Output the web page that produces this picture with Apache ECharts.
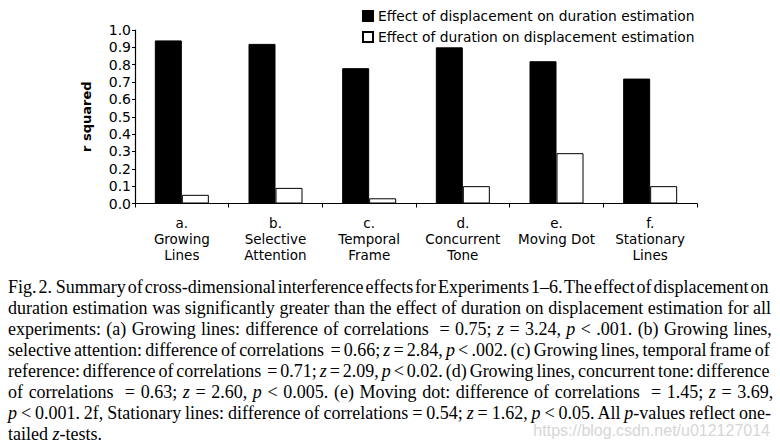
<!DOCTYPE html>
<html>
<head>
<meta charset="utf-8">
<script src="https://cdn.jsdelivr.net/npm/echarts@6/dist/echarts.min.js"></script>
<style>
  html, body { margin: 0; padding: 0; background: #fff; }
  #wrap { position: relative; width: 780px; height: 448px; overflow: hidden; }
  #chart { position: absolute; left: 0; top: 0; width: 780px; height: 448px; }
  .cap { position: absolute; left: 8px; white-space: nowrap; font-family: "Liberation Serif", "Times New Roman", serif;
         font-size: 18px; line-height: 17px; color: #000; }
  .cap i { font-style: italic; }
</style>
</head>
<body>
<div id="wrap">
  <div id="chart"></div>
</div>
<script>
const categories = ['a.\nGrowing\nLines', 'b.\nSelective\nAttention', 'c.\nTemporal\nFrame',
                    'd.\nConcurrent\nTone', 'e.\nMoving Dot', 'f.\nStationary\nLines'];
const seriesNames = ['Effect of displacement on duration estimation',
                     'Effect of duration on displacement estimation'];
const dispOnDuration = [0.94, 0.92, 0.78, 0.90, 0.82, 0.72];
const durationOnDisp = [0.05, 0.09, 0.03, 0.10, 0.29, 0.10];
const yTicks = [0, 0.1, 0.2, 0.3, 0.4, 0.5, 0.6, 0.7, 0.8, 0.9, 1.0];
const captionLines = [
  'Fig. 2.&nbsp; Summary of cross-dimensional interference effects for Experiments 1–6. The effect of displacement on',
  'duration estimation was significantly greater than the effect of duration on displacement estimation for all',
  'experiments: (a) Growing lines: difference of correlations &nbsp;= 0.75; <i>z</i> = 3.24, <i>p</i> &lt; .001. (b) Growing lines,',
  'selective attention: difference of correlations &nbsp;= 0.66; <i>z</i> = 2.84, <i>p</i> &lt; .002. (c) Growing lines, temporal frame of',
  'reference: difference of correlations &nbsp;= 0.71; <i>z</i> = 2.09, <i>p</i> &lt; 0.02. (d) Growing lines, concurrent tone: difference',
  'of correlations &nbsp;= 0.63; <i>z</i> = 2.60, <i>p</i> &lt; 0.005. (e) Moving dot: difference of correlations &nbsp;= 1.45; <i>z</i> = 3.69,',
  '<i>p</i> &lt; 0.001. 2f, Stationary lines: difference of correlations = 0.54; <i>z</i> = 1.62, <i>p</i> &lt; 0.05. All <i>p</i>-values reflect one-',
  'tailed <i>z</i>-tests.'
];
const watermark = 'https://blog.csdn.net/u012127014';

const chart = echarts.init(document.getElementById('chart'), null, { renderer: 'svg' });
const font = '"DejaVu Sans", Verdana, sans-serif';
chart.setOption({
  animation: false,
  backgroundColor: '#fff',
  textStyle: { fontFamily: font, color: '#000' },
  grid: { left: 135, right: 83, top: 30, bottom: 244.5, containLabel: false },
  legend: {
    orient: 'vertical', left: 357, top: 4, itemWidth: 10, itemHeight: 10, itemGap: 7,
    icon: 'rect',
    textStyle: { fontFamily: font, fontSize: 13.8, color: '#000' },
    data: seriesNames
  },
  xAxis: {
    type: 'category', data: categories,
    axisLine: { show: true, lineStyle: { color: '#000', width: 1.2 } },
    axisTick: { show: true, length: 4, lineStyle: { color: '#000' } },
    axisLabel: { interval: 0, fontFamily: font, fontSize: 13.5, lineHeight: 16, color: '#000', margin: 11 }
  },
  yAxis: {
    type: 'value', min: 0, max: 1, interval: 0.1,
    name: 'r squared', nameLocation: 'middle', nameGap: 42, nameRotate: 90,
    nameTextStyle: { fontFamily: font, fontSize: 13, fontWeight: 'bold', color: '#000' },
    axisLine: { show: true, lineStyle: { color: '#000', width: 1.2 } },
    axisTick: { show: true, length: 3, lineStyle: { color: '#000' } },
    splitLine: { show: false },
    axisLabel: { fontFamily: font, fontSize: 14, color: '#000', margin: 4,
                 formatter: v => yTicks.includes(Math.round(v * 10) / 10) ? v.toFixed(1) : '' }
  },
  graphic: [{
    type: 'text', right: 10, top: 422.5,
    style: { text: watermark, fontFamily: '"Liberation Sans", Arial, sans-serif', fontSize: 16, fill: '#d6d6d6' }
  }],
  series: [
    { name: seriesNames[0], type: 'bar', data: dispOnDuration, barWidth: 27, barGap: '0%',
      itemStyle: { color: '#000', borderColor: '#000', borderWidth: 1 } },
    { name: seriesNames[1], type: 'bar', data: durationOnDisp, barWidth: 27, barGap: '0%',
      itemStyle: { color: '#fff', borderColor: '#000', borderWidth: 1 } }
  ]
});

// caption lines, justified to the text block width
const wrap = document.getElementById('wrap');
const targetW = 763;
captionLines.forEach((html, i) => {
  const d = document.createElement('div');
  d.className = 'cap';
  d.style.top = (279 + i * 21) + 'px';
  d.innerHTML = html;
  wrap.appendChild(d);
  if (i < captionLines.length - 1) {
    const w = d.getBoundingClientRect().width;
    const spaces = (d.textContent.match(/ /g) || []).length;
    if (spaces > 0) d.style.wordSpacing = ((targetW - w) / spaces) + 'px';
  }
});
</script>
</body>
</html>
